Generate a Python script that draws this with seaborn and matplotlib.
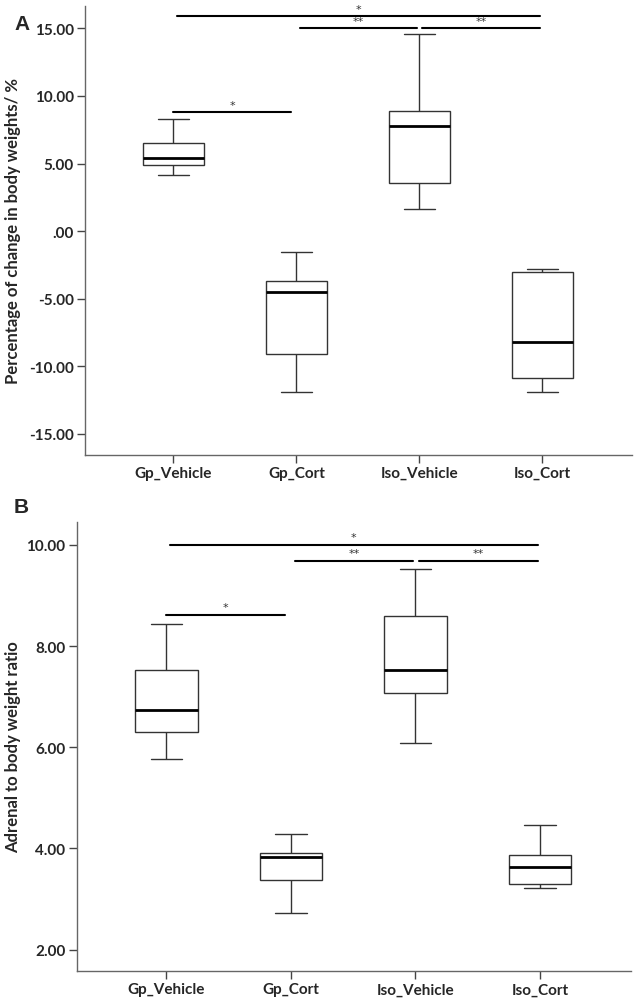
import pandas as pd
import seaborn as sns
import matplotlib.pyplot as plt

# groups on the x axis
groups = ['Gp_Vehicle', 'Gp_Cort', 'Iso_Vehicle', 'Iso_Cort']

# five-number summaries: min, Q1, median, Q3, max
change_gp_vehicle = [4.15, 4.86, 5.41, 6.52, 8.30]
change_gp_cort = [-11.88, -9.11, -4.50, -3.66, -1.51]
change_iso_vehicle = [1.63, 3.55, 7.80, 8.86, 14.60]
change_iso_cort = [-11.88, -10.87, -8.20, -3.01, -2.77]

ratio_gp_vehicle = [5.77, 6.31, 6.73, 7.52, 8.44]
ratio_gp_cort = [2.73, 3.38, 3.83, 3.91, 4.28]
ratio_iso_vehicle = [6.09, 7.07, 7.53, 8.60, 9.53]
ratio_iso_cort = [3.22, 3.29, 3.64, 3.87, 4.46]

# y ticks (SPSS style labels)
ticks_a = [-15, -10, -5, 0, 5, 10, 15]
labels_a = ['-15.00', '-10.00', '-5.00', '.00', '5.00', '10.00', '15.00']
ticks_b = [2, 4, 6, 8, 10]
labels_b = ['2.00', '4.00', '6.00', '8.00', '10.00']

# significance bars: x from, x to (category index), height, label
sig_a = [(0.03, 2.98, 15.9, '*'), (1.03, 1.98, 15.0, '**'),
         (2.02, 2.98, 15.0, '**'), (0.0, 0.96, 8.82, '*')]
sig_b = [(0.03, 2.98, 10.0, '*'), (1.03, 1.98, 9.68, '**'),
         (2.03, 2.98, 9.68, '**'), (0.0, 0.95, 8.62, '*')]


def long_form(series):
    rows = []
    for g, vals in zip(groups, series):
        for v in vals:
            rows.append({'group': g, 'value': v})
    return pd.DataFrame(rows)


df_a = long_form([change_gp_vehicle, change_gp_cort, change_iso_vehicle, change_iso_cort])
df_b = long_form([ratio_gp_vehicle, ratio_gp_cort, ratio_iso_vehicle, ratio_iso_cort])

sns.set_style('ticks')
plt.rcParams['font.family'] = ['Lato', 'DejaVu Sans']

fig = plt.figure(figsize=(6.38, 10.03), dpi=100)
ax_a = fig.add_axes([0.1332, 0.5454, 0.8574, 0.4476])
ax_b = fig.add_axes([0.1202, 0.0306, 0.8688, 0.4483])

line_col = '#333333'


def draw(ax, df, ticks, labels, ylim, ylabel, label_x, sig, star_off):
    sns.boxplot(data=df, x='group', y='value', order=groups, ax=ax,
                whis=(0, 100), width=0.5, color='white', linecolor=line_col,
                linewidth=1.0, fliersize=0,
                medianprops={'color': 'black', 'linewidth': 2.0})
    ax.set_xlim(-0.72, 3.73)
    ax.set_ylim(*ylim)
    ax.set_yticks(ticks)
    ax.set_yticklabels(labels)
    ax.set_xlabel('')
    ax.set_ylabel(ylabel, fontsize=12, fontweight='bold')
    ax.yaxis.set_label_coords(label_x, 0.5)
    for lab in ax.get_xticklabels() + ax.get_yticklabels():
        lab.set_fontweight('bold')
        lab.set_fontsize(11)
    ax.tick_params(axis='both', length=6, width=1, color='#444444', pad=2)
    for side in ['top', 'right']:
        ax.spines[side].set_visible(False)
    for side in ['left', 'bottom']:
        ax.spines[side].set_color('#666666')
        ax.spines[side].set_linewidth(1)
    for x0, x1, y, txt in sig:
        ax.plot([x0, x1], [y, y], color='black', linewidth=1.5)
        ax.text((x0 + x1) / 2, y + star_off, txt, ha='center', va='bottom',
                fontsize=8, color='#333333', family='DejaVu Sans')


draw(ax_a, df_a, ticks_a, labels_a, (-16.56, 16.65),
     'Percentage of change in body weights/ %', -0.117, sig_a, 0.15)
draw(ax_b, df_b, ticks_b, labels_b, (1.57, 10.46),
     'Adrenal to body weight ratio', -0.1005, sig_b, 0.06)

fig.text(0.022, 0.970, 'A', fontsize=15, fontweight='bold', family='Liberation Sans')
fig.text(0.022, 0.4885, 'B', fontsize=15, fontweight='bold', family='Liberation Sans')

fig.savefig('out.png', dpi=100)
